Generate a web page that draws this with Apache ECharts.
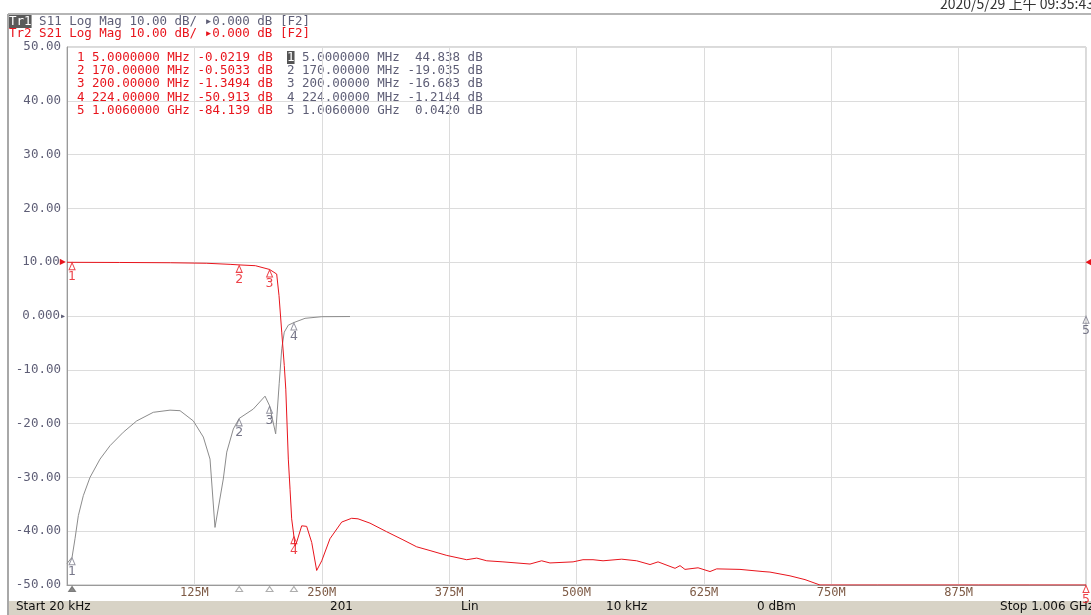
<!DOCTYPE html>
<html>
<head>
<meta charset="utf-8">
<script src="https://cdn.jsdelivr.net/npm/echarts@6/dist/echarts.min.js"></script>
<style>
html,body{margin:0;padding:0;background:#fff;}
#c{width:1091px;height:615px;}
</style>
</head>
<body>
<div id="c"></div>
<script>
// ---------- data (MHz, dB) ----------
const freqS21 = [0.02, 5, 52, 102, 138, 161, 170, 186, 200, 207, 209.3, 212, 214.5, 216, 218.5, 220.2, 221.8, 224, 225.1, 226.8, 231.7, 236.6, 241.6, 246.5, 251.5, 259.6, 271.2, 281, 287.3, 299.1, 315.6, 331.7, 345.2, 358.4, 374.9, 394.6, 404.5, 414.4, 430.4, 457.1, 468.6, 476.8, 499.6, 509.4, 519.3, 529.2, 547.6, 562.4, 575.6, 583.5, 600.3, 605.2, 610.1, 623, 634.8, 641.4, 664.4, 687.1, 694, 713.8, 728.6, 743.4, 773, 800, 850, 900, 950, 1006];
const valS21 = [-0.01, -0.0219, -0.05, -0.1, -0.2, -0.4, -0.5033, -0.65, -1.3494, -2.2, -6.2, -13, -19.2, -23.6, -36.6, -42.2, -47.7, -50.913, -52.7, -52, -49, -49.1, -52.1, -57.3, -55.5, -51.4, -48.3, -47.6, -47.7, -48.5, -50.1, -51.6, -52.9, -53.6, -54.5, -55.3, -55, -55.5, -55.7, -56.1, -55.5, -55.9, -55.7, -55.3, -55.3, -55.5, -55.2, -55.5, -56.2, -55.7, -56.9, -56.4, -57.1, -56.8, -57.5, -57, -57.1, -57.5, -57.6, -58.3, -59, -60.2, -63, -66, -70, -75, -80, -84.139];

const freqS11 = [0.02, 5, 7.9, 11.2, 16.1, 22.7, 32.6, 42.5, 55.6, 68.8, 85.2, 101.7, 111.6, 124.7, 134.6, 141.2, 146.1, 154.3, 157.7, 164.2, 170, 183.9, 195.5, 200, 206, 209.5, 212, 214.5, 218.5, 224, 235, 251.5, 279.4];
const valS11 = [-46, -44.838, -41.4, -37.1, -33.4, -30, -26.6, -24.1, -21.6, -19.5, -17.9, -17.5, -17.6, -19.5, -22.5, -26.6, -39.3, -30.3, -25.3, -21, -19.035, -17.3, -14.9, -16.683, -21.9, -12.5, -6.1, -3, -1.7, -1.2144, -0.43, -0.13, -0.1];

const markerFreq = [5, 170, 200, 224, 1006];
const markerS21 = [-0.0219, -0.5033, -1.3494, -50.913, -84.139];
const markerS11 = [-44.838, -19.035, -16.683, -1.2144, 0.0420];

const tableS21 = [
  '1 5.0000000 MHz -0.0219 dB',
  '2 170.00000 MHz -0.5033 dB',
  '3 200.00000 MHz -1.3494 dB',
  '4 224.00000 MHz -50.913 dB',
  '5 1.0060000 GHz -84.139 dB'
];
const tableS11 = [
  ' 5.0000000 MHz  44.838 dB',
  '2 170.00000 MHz -19.035 dB',
  '3 200.00000 MHz -16.683 dB',
  '4 224.00000 MHz -1.2144 dB',
  '5 1.0060000 GHz  0.0420 dB'
];

const yTickLabels = ['-50.00','-40.00','-30.00','-20.00','-10.00','0.000','10.00','20.00','30.00','40.00','50.00'];
const xTickLabels = ['', '125M', '250M', '375M', '500M', '625M', '750M', '875M', ''];

const X_MIN = 0, X_MAX = 1006, X_INT = 125.75;
const Y_MIN = -50, Y_MAX = 50, Y_INT = 10;
const REF2 = 10; // Tr2 reference position (dB on screen)

// ---------- helpers ----------
const clampY = v => Math.max(Y_MIN, Math.min(Y_MAX, v));
const s21Data = freqS21.map((f, i) => [f, clampY(valS21[i] + REF2)]);
const s11Data = freqS11.map((f, i) => [f, clampY(valS11[i])]);
const mk21Data = markerFreq.map((f, i) => [f, clampY(markerS21[i] + REF2)]);
const mk11Data = markerFreq.map((f, i) => [f, clampY(markerS11[i])]);
const stimData = markerFreq.slice(0, 4).map((f, i) => ({
  value: [f, Y_MIN],
  itemStyle: i === 0 ? {color: '#6a6a6a', borderColor: '#6a6a6a'} : {color: '#fff', borderColor: '#9a9a9a'}
}));

const RED = '#e8141c';
const GRAY = '#8c8c8c';
const TXT_GRAY = '#5e5e76';
const MONO = '"DejaVu Sans Mono", monospace';
const SANS = '"DejaVu Sans", sans-serif';
const FS = '12.5px ';

const chart = echarts.init(document.getElementById('c'), null, {renderer: 'canvas'});

const tableText = [];
tableS21.forEach((t, i) => tableText.push({
  type: 'text', left: 77, top: 51 + i * 13.25,
  style: {text: t, fill: RED, font: FS + MONO}
}));
tableS11.forEach((t, i) => tableText.push({
  type: 'text', left: 287, top: 51 + i * 13.25,
  style: i === 0 ? {
    text: '{b|1}{n|' + t + '}', fill: TXT_GRAY, font: FS + MONO,
    rich: {b: {backgroundColor: '#555', fill: '#fff', font: FS + MONO}, n: {fill: TXT_GRAY, font: FS + MONO}}
  } : {text: t, fill: TXT_GRAY, font: FS + MONO}
}));

const option = {
  animation: false,
  backgroundColor: '#fff',
  grid: {left: 67, right: 5, top: 47, bottom: 30, show: true, borderColor: '#b4b4b4', borderWidth: 1, containLabel: false},
  xAxis: {
    type: 'value', min: X_MIN, max: X_MAX, interval: X_INT,
    axisLine: {show: true, onZero: false, lineStyle: {color: '#9a9a9a', width: 1}},
    axisTick: {show: false},
    splitLine: {show: true, lineStyle: {color: '#dcdcdc', width: 1}},
    axisLabel: {
      margin: 2, color: '#7d5a45', fontFamily: MONO, fontSize: 12,
      showMinLabel: true, showMaxLabel: true,
      formatter: v => xTickLabels[Math.round((v - X_MIN) / X_INT)] || ''
    }
  },
  yAxis: {
    type: 'value', min: Y_MIN, max: Y_MAX, interval: Y_INT,
    axisLine: {show: true, onZero: false, lineStyle: {color: '#9a9a9a', width: 1}},
    axisTick: {show: false},
    splitLine: {show: true, lineStyle: {color: '#dcdcdc', width: 1}},
    axisLabel: {
      margin: 1, color: TXT_GRAY, fontFamily: MONO, fontSize: 12.5,
      formatter: v => {
        const lab = yTickLabels[Math.round((v - Y_MIN) / Y_INT)] || '';
        if (Math.abs(v - REF2) < 1e-6) return '{t0|' + lab + '}{r|▶}';
        if (Math.abs(v) < 1e-6) return '{t0|' + lab + '}{g|▸}';
        return '{t|' + lab + '}';
      },
      rich: {
        t: {color: TXT_GRAY, fontFamily: MONO, fontSize: 12.5, padding: [0, 5, 0, 0]},
        t0: {color: TXT_GRAY, fontFamily: MONO, fontSize: 12.5},
        r: {color: RED, fontFamily: SANS, fontSize: 8},
        g: {color: TXT_GRAY, fontFamily: MONO, fontSize: 10}
      }
    }
  },
  series: [
    {
      name: 'S11', type: 'line', data: s11Data, showSymbol: false, z: 3,
      lineStyle: {color: GRAY, width: 1}, itemStyle: {color: GRAY}
    },
    {
      name: 'S21', type: 'line', data: s21Data, showSymbol: false, z: 4,
      lineStyle: {color: RED, width: 1}, itemStyle: {color: RED},
      markPoint: {
        silent: true,
        data: [{coord: [X_MAX, REF2], symbol: 'triangle', symbolSize: [8, 7], symbolRotate: 90, symbolOffset: [3, 0],
          itemStyle: {color: RED}, label: {show: false}}]
      }
    },
    {
      name: 'S11 markers', type: 'scatter', data: mk11Data, z: 5, clip: false,
      symbol: 'triangle', symbolSize: [6, 7], symbolOffset: [0, 4],
      itemStyle: {color: 'rgba(255,255,255,0)', borderColor: '#7a7a8a', borderWidth: 1},
      label: {show: true, position: 'bottom', distance: 0, color: '#55556c', fontFamily: SANS, fontSize: 12.5,
        formatter: p => String(p.dataIndex + 1)}
    },
    {
      name: 'S21 markers', type: 'scatter', data: mk21Data, z: 6, clip: false,
      symbol: 'triangle', symbolSize: [6, 7], symbolOffset: [0, 4],
      itemStyle: {color: 'rgba(255,255,255,0)', borderColor: RED, borderWidth: 1},
      label: {show: true, position: 'bottom', distance: 0, color: RED, fontFamily: SANS, fontSize: 12.5,
        formatter: p => String(p.dataIndex + 1)}
    },
    {
      name: 'stimulus', type: 'scatter', data: stimData, z: 6, clip: false,
      symbol: 'triangle', symbolSize: [7, 5], symbolOffset: [0, 4],
      itemStyle: {borderWidth: 1}, label: {show: false}
    }
  ],
  graphic: [
    {type: 'line', shape: {x1: 8, y1: 14, x2: 1091, y2: 14}, style: {stroke: '#9c9c9c', lineWidth: 1.5}},
    {type: 'line', shape: {x1: 8, y1: 14, x2: 8, y2: 615}, style: {stroke: '#a8a8a8', lineWidth: 2}},
    {type: 'text', left: 940, top: -3, style: {text: '2020/5/29 上午 09:35:43', fill: '#333', font: '14px "Noto Sans CJK SC", sans-serif'}},
    {type: 'text', left: 9, top: 15, style: {
      text: '{b|Tr1}{n| S11 Log Mag 10.00 dB/ ▸0.000 dB [F2]}', fill: TXT_GRAY, font: FS + MONO,
      rich: {b: {backgroundColor: '#5a5a5a', fill: '#fff', font: FS + MONO}, n: {fill: TXT_GRAY, font: FS + MONO}}
    }},
    {type: 'text', left: 9, top: 27, style: {text: 'Tr2 S21 Log Mag 10.00 dB/ ▸0.000 dB [F2]', fill: RED, font: FS + MONO}},
    {type: 'rect', shape: {x: 9, y: 601, width: 1082, height: 14}, style: {fill: '#d8d3c6'}},
    {type: 'text', left: 16, top: 601, style: {text: 'Start 20 kHz', fill: '#111', font: '12px ' + SANS}},
    {type: 'text', left: 330, top: 601, style: {text: '201', fill: '#111', font: '12px ' + SANS, textAlign: 'center'}},
    {type: 'text', left: 461, top: 601, style: {text: 'Lin', fill: '#111', font: '12px ' + SANS, textAlign: 'center'}},
    {type: 'text', left: 606, top: 601, style: {text: '10 kHz', fill: '#111', font: '12px ' + SANS, textAlign: 'center'}},
    {type: 'text', left: 757, top: 601, style: {text: '0 dBm', fill: '#111', font: '12px ' + SANS, textAlign: 'center'}},
    {type: 'text', right: -3, top: 601, style: {text: 'Stop 1.006 GHz', fill: '#111', font: '12px ' + SANS}}
  ].concat(tableText)
};
chart.setOption(option);
</script>
</body>
</html>
